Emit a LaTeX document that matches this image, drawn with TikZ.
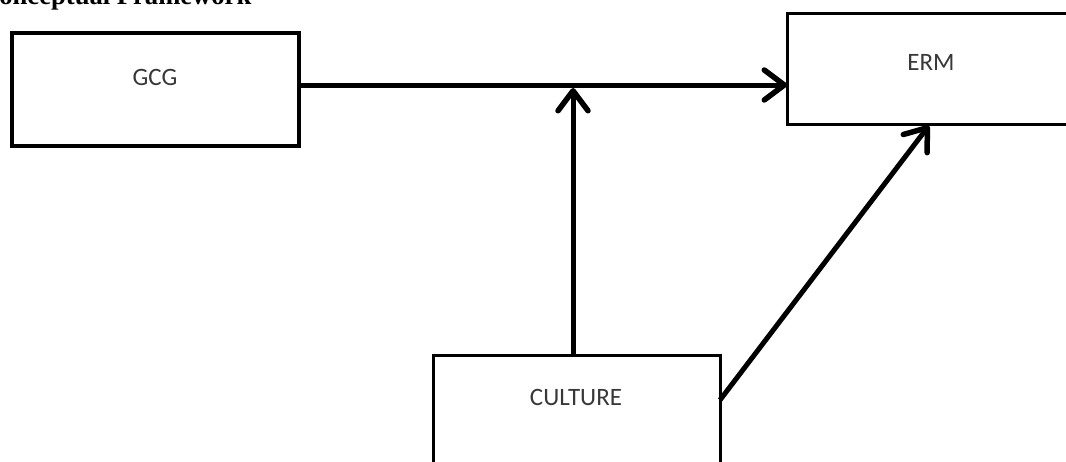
\documentclass[tikz,border=0pt]{standalone}
\usepackage{fontspec}
\setmainfont{Liberation Serif}
\newfontfamily\boxfont{Carlito}
\usetikzlibrary{arrows.meta}
\begin{document}
\begin{tikzpicture}[x=1pt,y=-1pt,
  box/.style={draw=black, line width=3.2pt, rectangle, minimum width=287pt, minimum height=113pt, inner sep=0pt, outer sep=0pt},
  boxtext/.style={font=\boxfont\fontsize{25}{28}\selectfont, text=black!78, inner sep=0pt},
  arr/.style={line width=5pt, -{Straight Barb[length=20pt,width=30pt,line width=5.5pt,round]}},
  ttl/.style={font=\bfseries\fontsize{26.6}{30}\selectfont, inner sep=0pt, anchor=base west}]
\clip (0,0) rectangle (1066,461);
\fill[white] (0,0) rectangle (1066,461);
\node[ttl] (title) at (-20,4.5) {Conceptual Framework};
\node[box] (gcg) at (155.5,89.5) {};
\node[box, minimum width=293pt, minimum height=111pt, line width=3pt] (erm) at (933.5,68.5) {};
\node[box, line width=3pt] (cult) at (576.5,411.5) {};
\node[boxtext] (gcgt) at (155,77.5) {GCG};
\node[boxtext] (ermt) at (931,62.5) {ERM};
\node[boxtext] (cultt) at (576,397.5) {CULTURE};
\coordinate (hstart) at ([yshift=4.5pt]gcg.east);
\draw[arr] (hstart) -- (hstart -| erm.west);
\coordinate (vstart) at ([xshift=-3.5pt]cult.north);
\draw[arr] (vstart) -- (vstart |- 0,88);
\draw[arr] ([yshift=11.5pt]cult.east) -- ([xshift=-4.5pt,yshift=-1.5pt]erm.south);
\end{tikzpicture}
\end{document}
